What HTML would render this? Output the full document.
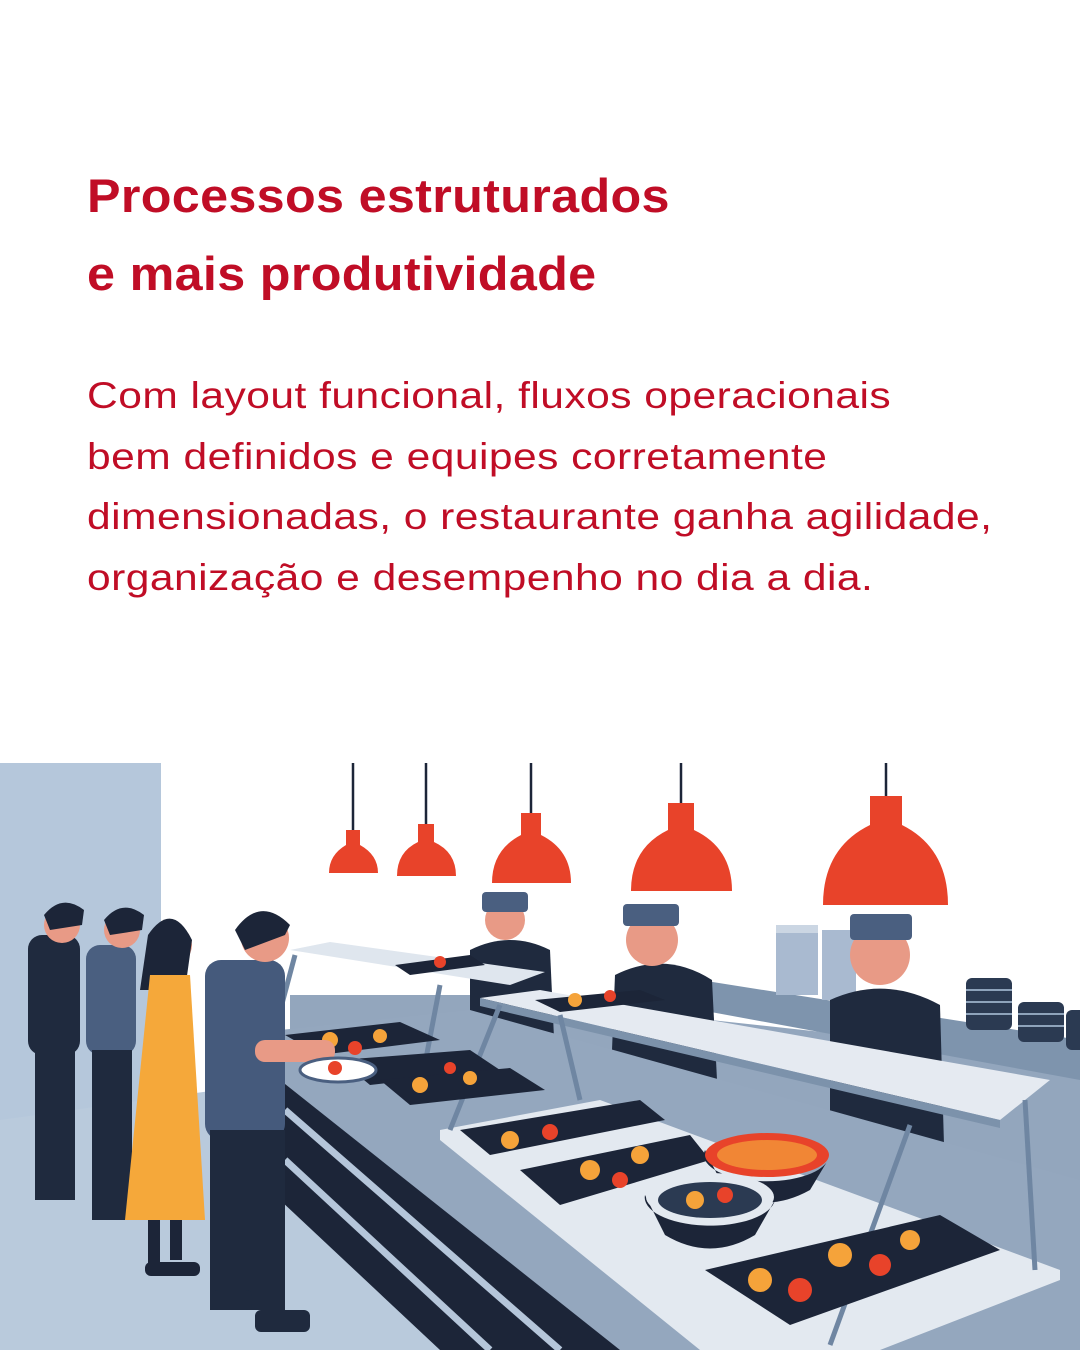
<!DOCTYPE html>
<html><head><meta charset="utf-8"><style>
html,body{margin:0;padding:0;background:#fff;}
body{width:1080px;height:1350px;position:relative;overflow:hidden;font-family:"Liberation Sans",sans-serif;}
h1{position:absolute;left:87px;top:157px;margin:0;color:#c00d26;font-size:47px;font-weight:bold;line-height:78px;letter-spacing:0.3px;transform:scaleX(1.07);transform-origin:0 0;white-space:nowrap;}
p{position:absolute;left:87px;top:365px;margin:0;color:#c00d26;font-size:37.5px;line-height:60.5px;letter-spacing:0.4px;transform:scaleX(1.135);transform-origin:0 0;white-space:nowrap;}
svg{position:absolute;left:0;top:0;}
</style></head><body>
<h1>Processos estruturados<br>e mais produtividade</h1>
<p>Com layout funcional, fluxos operacionais<br>bem definidos e equipes corretamente<br>dimensionadas, o restaurante ganha agilidade,<br>organização e desempenho no dia a dia.</p>
<svg width="1080" height="1350" viewBox="0 0 1080 1350">
<rect x="0" y="763" width="161" height="360" fill="#b5c7db"/>
<polygon points="0,1120 290,1080 560,1350 0,1350" fill="#b9cadc"/>
<polygon points="290,995 480,995 1080,1060 1080,1230 620,1080 290,1040" fill="#93a6bd"/>
<polygon points="700,980 1080,1040 1080,1080 700,1010" fill="#7e94ad"/>
<rect x="776" y="925" width="42" height="70" fill="#a9bad0"/><rect x="776" y="925" width="42" height="8" fill="#cbd6e3"/>
<rect x="822" y="930" width="34" height="70" fill="#a9bad0"/>
<g fill="#2b3a52"><rect x="966" y="978" width="46" height="52" rx="6"/><rect x="1018" y="1002" width="46" height="40" rx="6"/><rect x="1066" y="1010" width="20" height="40" rx="6"/></g>
<g stroke="#8ea3bb" stroke-width="2"><line x1="966" y1="990" x2="1012" y2="990"/><line x1="966" y1="1002" x2="1012" y2="1002"/><line x1="966" y1="1014" x2="1012" y2="1014"/><line x1="1018" y1="1014" x2="1064" y2="1014"/><line x1="1018" y1="1026" x2="1064" y2="1026"/></g>
<g fill="#1f2a3e">
<path d="M470 950 Q510 930 550 950 L555 1060 L470 1060Z"/>
<path d="M615 975 Q665 950 712 980 L718 1100 L610 1100Z"/>
<path d="M830 1000 Q885 975 940 1005 L945 1180 L830 1180Z"/>
</g>
<g fill="#e89a86"><circle cx="505" cy="920" r="20"/><circle cx="652" cy="940" r="26"/><circle cx="880" cy="955" r="30"/></g>
<g fill="#4a5f80"><rect x="482" y="892" width="46" height="20" rx="4"/><rect x="623" y="904" width="56" height="22" rx="4"/><rect x="850" y="914" width="62" height="26" rx="4"/></g>
<polygon points="280,1030 470,1010 1080,1180 1080,1350 610,1350 280,1100" fill="#94a7be"/>
<polygon points="280,1080 620,1350 440,1350 280,1200" fill="#1c2538"/>
<g stroke="#b5c6da" stroke-width="7"><line x1="285" y1="1110" x2="560" y2="1350"/><line x1="285" y1="1160" x2="490" y2="1350"/></g>
<polygon points="440,1130 600,1100 1060,1270 1060,1280 880,1350 700,1350 440,1140" fill="#e3e9f0"/>
<polygon points="290,950 330,942 545,972 510,985" fill="#dfe6ee"/>
<polygon points="480,998 540,990 1050,1080 1000,1120" fill="#e5eaf1"/>
<polygon points="480,998 1000,1120 1000,1128 480,1006" fill="#7c92ab"/>
<g stroke="#6f86a2" stroke-width="5"><line x1="295" y1="955" x2="275" y2="1030"/><line x1="440" y1="985" x2="420" y2="1090"/><line x1="500" y1="1005" x2="450" y2="1130"/><line x1="560" y1="1015" x2="580" y2="1100"/><line x1="910" y1="1125" x2="830" y2="1345"/><line x1="1025" y1="1100" x2="1035" y2="1270"/></g>
<g fill="#1c2538">
<polygon points="285,1035 400,1022 440,1040 320,1055"/>
<polygon points="340,1060 470,1050 500,1070 370,1085"/>
<polygon points="380,1080 510,1068 545,1090 410,1105"/>
<polygon points="460,1130 640,1100 665,1120 490,1155"/>
<polygon points="520,1170 690,1135 710,1160 560,1205"/>
<polygon points="705,1270 940,1215 1000,1250 790,1325"/>
<polygon points="395,965 470,955 485,965 410,975"/>
<polygon points="535,1000 640,990 665,1000 560,1012"/>
</g>
<g fill="#f5a33a"><circle cx="330" cy="1040" r="8"/><circle cx="380" cy="1036" r="7"/><circle cx="420" cy="1085" r="8"/><circle cx="470" cy="1078" r="7"/><circle cx="510" cy="1140" r="9"/><circle cx="590" cy="1170" r="10"/><circle cx="640" cy="1155" r="9"/><circle cx="760" cy="1280" r="12"/><circle cx="840" cy="1255" r="12"/><circle cx="910" cy="1240" r="10"/><circle cx="575" cy="1000" r="7"/></g>
<g fill="#e8432a"><circle cx="355" cy="1048" r="7"/><circle cx="450" cy="1068" r="6"/><circle cx="550" cy="1132" r="8"/><circle cx="620" cy="1180" r="8"/><circle cx="800" cy="1290" r="12"/><circle cx="880" cy="1265" r="11"/><circle cx="440" cy="962" r="6"/><circle cx="610" cy="996" r="6"/></g>
<path d="M705 1150 A62 26 0 0 0 828 1160 L810 1190 Q765 1215 725 1190Z" fill="#1c2538"/>
<ellipse cx="767" cy="1155" rx="62" ry="22" fill="#e8432a"/>
<ellipse cx="767" cy="1155" rx="50" ry="15" fill="#f5a33a" opacity="0.7"/>
<path d="M645 1195 A65 28 0 0 0 775 1200 L755 1235 Q710 1262 665 1235Z" fill="#1c2538"/>
<ellipse cx="710" cy="1197" rx="64" ry="24" fill="#e3e9f0"/>
<ellipse cx="710" cy="1200" rx="52" ry="18" fill="#2b3a52"/>
<circle cx="695" cy="1200" r="9" fill="#f5a33a"/><circle cx="725" cy="1195" r="8" fill="#e8432a"/>
<g fill="#1f2a3e">
<rect x="28" y="935" width="52" height="120" rx="14"/><rect x="35" y="1050" width="40" height="150"/>
<rect x="86" y="945" width="50" height="110" rx="14" fill="#4a5f80"/><rect x="92" y="1050" width="40" height="170"/>
<rect x="205" y="960" width="80" height="180" rx="16" fill="#455a7c"/><rect x="210" y="1130" width="75" height="180"/>
<rect x="212" y="1290" width="40" height="20" rx="6"/><rect x="255" y="1310" width="55" height="22" rx="6"/>
</g>
<g fill="#e89a86"><circle cx="62" cy="925" r="18"/><circle cx="122" cy="930" r="18"/><circle cx="265" cy="938" r="24"/><circle cx="172" cy="945" r="20"/></g>
<g fill="#1c2538"><path d="M44 915 Q62 893 84 910 L82 925 L50 930Z"/><path d="M104 920 Q122 898 144 915 L142 930 L110 935Z"/><path d="M235 930 Q260 895 290 925 L285 935 L245 950Z"/><path d="M148 935 Q172 900 192 940 L185 990 L140 990Z"/></g>
<path d="M150 975 L190 975 L205 1220 L125 1220Z" fill="#f5a83a"/>
<g fill="#1c2538"><rect x="148" y="1220" width="12" height="50"/><rect x="170" y="1220" width="12" height="40"/><rect x="145" y="1262" width="55" height="14" rx="6"/></g>
<rect x="255" y="1040" width="80" height="22" rx="10" fill="#e89a86"/>
<ellipse cx="338" cy="1070" rx="38" ry="12" fill="#fff" stroke="#4a5f80" stroke-width="3"/>
<circle cx="335" cy="1068" r="7" fill="#e8432a"/>
<g stroke="#1c2538" stroke-width="2.5"><line x1="353" y1="763" x2="353" y2="832"/><line x1="426" y1="763" x2="426" y2="826"/><line x1="531" y1="763" x2="531" y2="815"/><line x1="681" y1="763" x2="681" y2="804"/><line x1="886" y1="763" x2="886" y2="797"/></g>
<g fill="#e8432a">
<path d="M346 830 L360 830 L360 845 Q378 855 378 873 L329 873 Q329 855 346 845Z"/>
<path d="M418 824 L434 824 L434 842 Q456 852 456 876 L397 876 Q397 852 418 842Z"/>
<path d="M521 813 L541 813 L541 835 Q571 850 571 883 L492 883 Q492 850 521 835Z"/>
<path d="M668 803 L694 803 L694 830 Q732 848 732 891 L631 891 Q631 848 668 830Z"/>
<path d="M870 796 L902 796 L902 825 Q948 848 948 905 L823 905 Q823 848 870 825Z"/>
</g>
</svg>
</body></html>
